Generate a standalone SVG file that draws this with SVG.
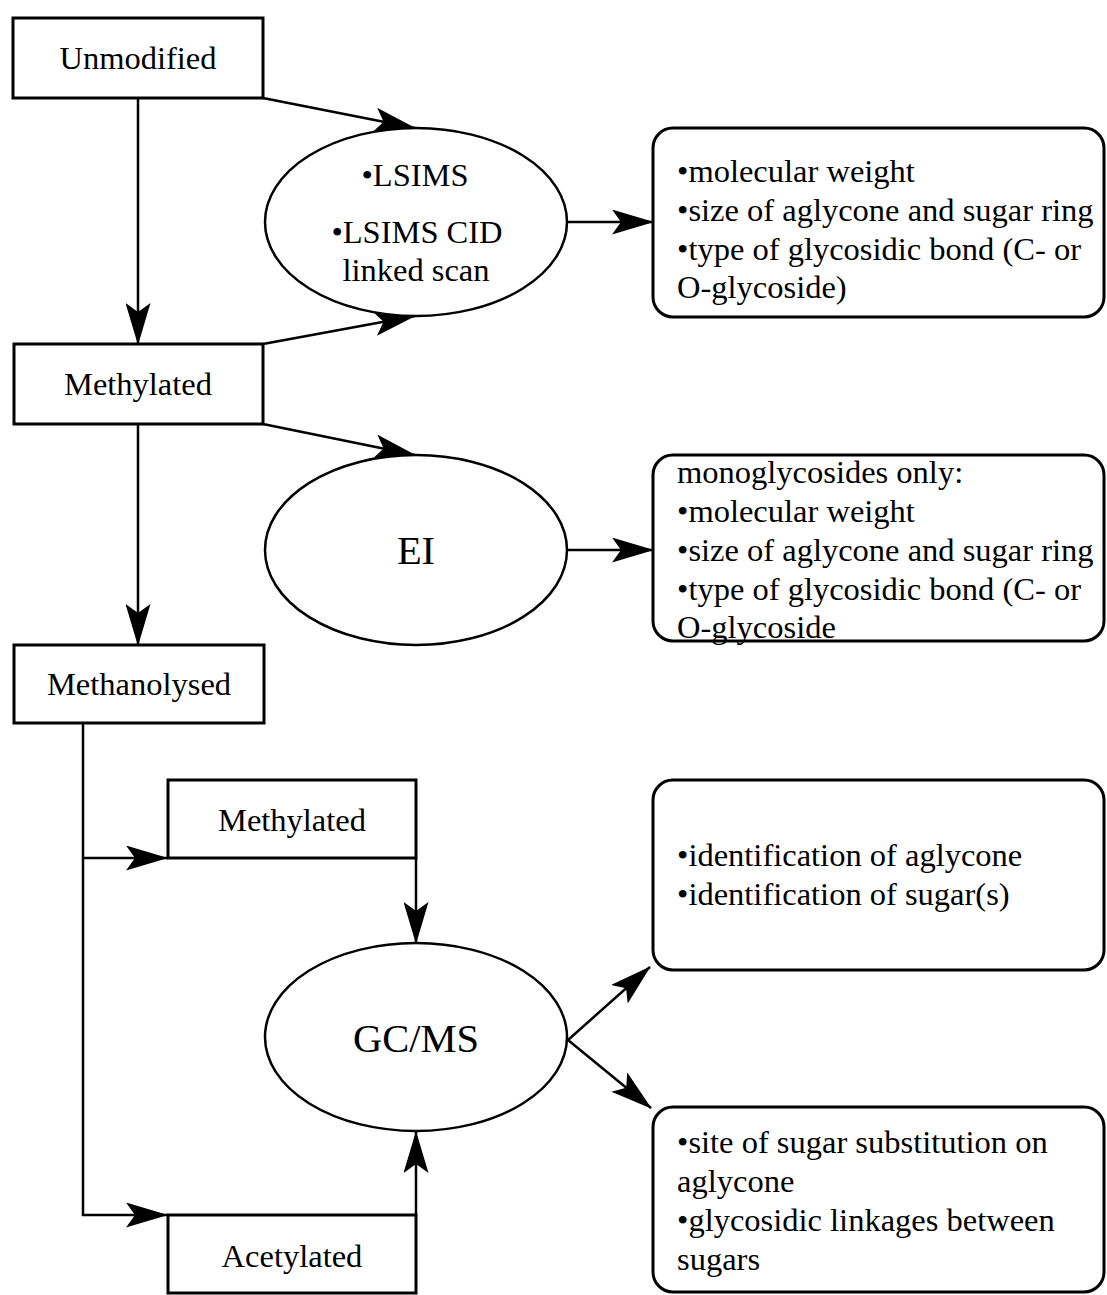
<svg xmlns="http://www.w3.org/2000/svg" width="1107" height="1295" viewBox="0 0 1107 1295">
<defs>
<style>
.box{fill:#fff;stroke:#000;stroke-width:3}
.ell{fill:#fff;stroke:#000;stroke-width:2.5}
.con{fill:none;stroke:#000;stroke-width:2.5}
text{font-family:"Liberation Serif","Times New Roman",serif;fill:#000;font-size:32.5px}
.c{text-anchor:middle}
.big{font-size:40.5px}
</style>
<marker id="ah" viewBox="0 0 42 25" markerWidth="42" markerHeight="25" refX="41" refY="12.5" orient="auto" markerUnits="userSpaceOnUse">
<path d="M0,0 L42,12.5 L0,25 L9,12.5 Z" fill="#000"/>
</marker>
</defs>
<rect width="1107" height="1295" fill="#fff"/>
<g id="connectors">
<line class="con" x1="138" y1="98" x2="138" y2="344" marker-end="url(#ah)"/>
<line class="con" x1="263" y1="98" x2="415" y2="128" marker-end="url(#ah)"/>
<line class="con" x1="263" y1="344" x2="415" y2="316" marker-end="url(#ah)"/>
<line class="con" x1="263" y1="424" x2="415" y2="455" marker-end="url(#ah)"/>
<line class="con" x1="138" y1="424" x2="138" y2="645" marker-end="url(#ah)"/>
<polyline class="con" points="83,723 83,1215 167,1215" marker-end="url(#ah)"/>
<line class="con" x1="83" y1="858" x2="167" y2="858" marker-end="url(#ah)"/>
<line class="con" x1="416" y1="858" x2="416" y2="943" marker-end="url(#ah)"/>
<line class="con" x1="416" y1="1215" x2="416" y2="1132" marker-end="url(#ah)"/>
<line class="con" x1="568" y1="222" x2="653" y2="222" marker-end="url(#ah)"/>
<line class="con" x1="568" y1="550" x2="653" y2="550" marker-end="url(#ah)"/>
<line class="con" x1="568" y1="1040" x2="650" y2="967" marker-end="url(#ah)"/>
<line class="con" x1="568" y1="1040" x2="651" y2="1108" marker-end="url(#ah)"/>
</g>
<g id="unmodified">
<rect class="box" x="13" y="18" width="250" height="80"/>
<text class="c" x="138" y="69">Unmodified</text>
</g>
<g id="methylated1">
<rect class="box" x="14" y="344" width="249" height="80"/>
<text class="c" x="138" y="395">Methylated</text>
</g>
<g id="methanolysed">
<rect class="box" x="14" y="645" width="250" height="78"/>
<text class="c" x="139" y="695">Methanolysed</text>
</g>
<g id="methylated2">
<rect class="box" x="168" y="780" width="248" height="78"/>
<text class="c" x="292" y="831">Methylated</text>
</g>
<g id="acetylated">
<rect class="box" x="168" y="1215" width="248" height="78"/>
<text class="c" x="292" y="1267">Acetylated</text>
</g>
<g id="lsims">
<ellipse class="ell" cx="416" cy="222" rx="151" ry="94"/>
<text class="c" x="415" y="186">•LSIMS</text>
<text class="c" x="417" y="243">•LSIMS CID</text>
<text class="c" x="416" y="281">linked scan</text>
</g>
<g id="ei">
<ellipse class="ell" cx="416" cy="550" rx="151" ry="95"/>
<text class="c big" x="416" y="564">EI</text>
</g>
<g id="gcms">
<ellipse class="ell" cx="416" cy="1037" rx="151" ry="94"/>
<text class="c big" x="416" y="1052">GC/MS</text>
</g>
<g id="result1">
<rect class="box" x="653" y="128" width="451" height="189" rx="20"/>
<text x="677" y="182">•molecular weight</text>
<text x="677" y="221">•size of aglycone and sugar ring</text>
<text x="677" y="260">•type of glycosidic bond (C- or</text>
<text x="677" y="298">O-glycoside)</text>
</g>
<g id="result2">
<rect class="box" x="653" y="455" width="451" height="186" rx="20"/>
<text x="677" y="483">monoglycosides only:</text>
<text x="677" y="522">•molecular weight</text>
<text x="677" y="561">•size of aglycone and sugar ring</text>
<text x="677" y="600">•type of glycosidic bond (C- or</text>
<text x="677" y="638">O-glycoside</text>
</g>
<g id="result3">
<rect class="box" x="653" y="780" width="451" height="190" rx="20"/>
<text x="677" y="866">•identification  of aglycone</text>
<text x="677" y="905">•identification of sugar(s)</text>
</g>
<g id="result4">
<rect class="box" x="653" y="1107" width="451" height="185" rx="20"/>
<text x="677" y="1153">•site of sugar substitution on</text>
<text x="677" y="1192">aglycone</text>
<text x="677" y="1231">•glycosidic linkages between</text>
<text x="677" y="1270">sugars</text>
</g>
</svg>
